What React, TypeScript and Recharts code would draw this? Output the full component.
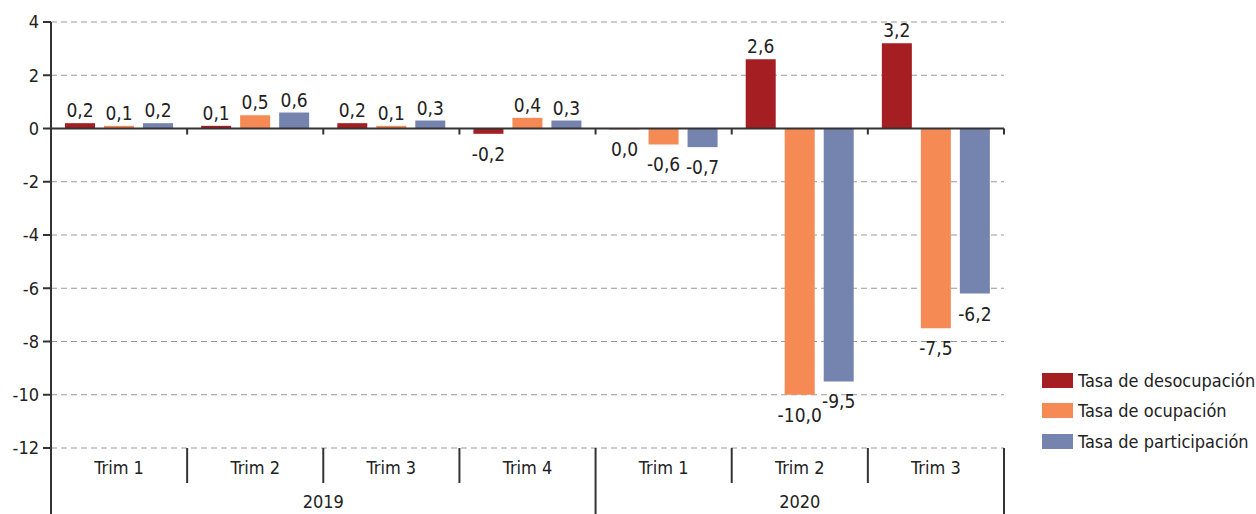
import React from 'react';
import { BarChart, Bar, XAxis, YAxis, CartesianGrid, ReferenceLine, Legend, LabelList } from 'recharts';

const quarters = ['Trim 1', 'Trim 2', 'Trim 3', 'Trim 4', 'Trim 1', 'Trim 2', 'Trim 3'];
const years = ['2019', '2019', '2019', '2019', '2020', '2020', '2020'];
const desocupacion = [0.2, 0.1, 0.2, -0.2, -0.03, 2.6, 3.2];
const ocupacion = [0.1, 0.5, 0.1, 0.4, -0.6, -10.0, -7.5];
const participacion = [0.2, 0.6, 0.3, 0.3, -0.7, -9.5, -6.2];
const yTicks = [-12, -10, -8, -6, -4, -2, 0, 2, 4];
const seriesKeys = ['desocupacion', 'ocupacion', 'participacion'];
const seriesNames = ['Tasa de desocupación', 'Tasa de ocupación', 'Tasa de participación'];
const seriesColors = ['#A41E22', '#F58A54', '#7583AF'];

const data = quarters.map((q, i) => ({
  quarter: q,
  year: years[i],
  desocupacion: desocupacion[i],
  ocupacion: ocupacion[i],
  participacion: participacion[i],
}));

const FONT = '"Liberation Sans Narrow", "DejaVu Sans Condensed", "Roboto Condensed", Roboto, sans-serif';
const W = 1256;
const H = 514;
const MARGIN = { top: 22, right: 252, bottom: 0, left: 0 };
const Y_AXIS_W = 51;
const PLOT_W = W - MARGIN.left - MARGIN.right - Y_AXIS_W;
const BAND = PLOT_W / quarters.length;
const INK = '#333333';
const TEXT = '#222222';

const fmt = (v: number) => (Math.abs(v) < 0.05 ? 0 : v).toFixed(1).replace('.', ',');

const renderLabel = (props: any) => {
  const { x, y, width, height, value } = props;
  const top = Math.min(y, y + height);
  const bottom = Math.max(y, y + height);
  const cx = x + width / 2;
  const v = Number(value);
  const ty = v >= 0 && Math.abs(v) >= 0.05 ? top - 6 : bottom + 27;
  return (
    <text x={cx} y={ty} textAnchor="middle" fontSize={19} fill={TEXT} fontFamily={FONT}>
      {fmt(v)}
    </text>
  );
};

const TrimTick = (props: any) => {
  const { x, y, payload } = props;
  const i = payload.index;
  const left = x - BAND / 2;
  return (
    <g>
      <line x1={left} x2={left} y1={y} y2={y + 35} stroke={INK} strokeWidth={2} />
      {i === quarters.length - 1 && (
        <line x1={left + BAND} x2={left + BAND} y1={y} y2={y + 35} stroke={INK} strokeWidth={2} />
      )}
      <text x={x} y={y + 26} textAnchor="middle" fontSize={18} fill={TEXT} fontFamily={FONT}>
        {payload.value}
      </text>
    </g>
  );
};

const YearTick = (props: any) => {
  const { x, y, payload } = props;
  const i = payload.index;
  const isFirst = i === 0 || years[i - 1] !== years[i];
  if (!isFirst) return <g />;
  let count = 0;
  for (let k = i; k < years.length && years[k] === years[i]; k++) count++;
  const left = x - BAND / 2;
  const right = left + count * BAND;
  const isLastGroup = i + count >= years.length;
  return (
    <g>
      <line x1={left} x2={left} y1={y} y2={y + 31} stroke={INK} strokeWidth={2} />
      {isLastGroup && <line x1={right} x2={right} y1={y} y2={y + 31} stroke={INK} strokeWidth={2} />}
      <text x={(left + right) / 2} y={y + 25} textAnchor="middle" fontSize={18} fill={TEXT} fontFamily={FONT}>
        {years[i]}
      </text>
    </g>
  );
};

const ZeroLine = (props: any) => {
  const { x1, x2, y1, y2 } = props;
  const n = quarters.length;
  const marks = [];
  for (let k = 1; k <= n; k++) {
    const xx = x1 + (k * (x2 - x1)) / n;
    marks.push(<line key={k} x1={xx} x2={xx} y1={y1} y2={y1 + 6} stroke={INK} strokeWidth={2} />);
  }
  return (
    <g>
      <line x1={x1} x2={x2} y1={y1} y2={y2} stroke={INK} strokeWidth={2} />
      {marks}
    </g>
  );
};

const renderLegend = () => (
  <div style={{ display: 'flex', flexDirection: 'column', fontFamily: FONT }}>
    {seriesNames.map((n, i) => (
      <div key={n} style={{ display: 'flex', alignItems: 'center', height: 30.5 }}>
        <span style={{ display: 'inline-block', width: 31, height: 15, background: seriesColors[i], marginRight: 5 }} />
        <span style={{ fontSize: 18, color: TEXT, whiteSpace: 'nowrap' }}>{n}</span>
      </div>
    ))}
  </div>
);

export default function App() {
  return (
    <div style={{ position: 'absolute', left: 0, top: 0, width: W, height: H, background: '#fff' }}>
      <BarChart
        width={W}
        height={H}
        data={data}
        margin={MARGIN}
        barCategoryGap={14}
        barGap={9}
        style={{ fontFamily: FONT }}
      >
        <CartesianGrid vertical={false} stroke="#999" strokeDasharray="6 4" />
        <XAxis
          dataKey="quarter"
          xAxisId={0}
          height={35}
          axisLine={false}
          tickLine={false}
          tickSize={0}
          tickMargin={0}
          interval={0}
          tick={<TrimTick />}
        />
        <XAxis
          dataKey="year"
          xAxisId="year"
          height={31}
          axisLine={false}
          tickLine={false}
          tickSize={0}
          tickMargin={0}
          interval={0}
          tick={<YearTick />}
        />
        <YAxis
          width={Y_AXIS_W}
          domain={[-12, 4]}
          ticks={yTicks}
          interval={0}
          tickSize={8}
          tickMargin={4}
          axisLine={{ stroke: INK, strokeWidth: 2 }}
          tickLine={{ stroke: INK, strokeWidth: 2 }}
          tick={{ fill: TEXT, fontSize: 18, fontFamily: FONT }}
        />
        <Legend
          layout="horizontal"
          verticalAlign="middle"
          align="center"
          content={renderLegend}
          wrapperStyle={{ left: 1042, top: 365, width: 214, height: 92 }}
        />
        {seriesKeys.map((k, i) => (
          <Bar key={k} dataKey={k} name={seriesNames[i]} fill={seriesColors[i]} isAnimationActive={false}>
            <LabelList dataKey={k} content={renderLabel} />
          </Bar>
        ))}
        <ReferenceLine y={0} shape={<ZeroLine />} />
      </BarChart>
    </div>
  );
}
